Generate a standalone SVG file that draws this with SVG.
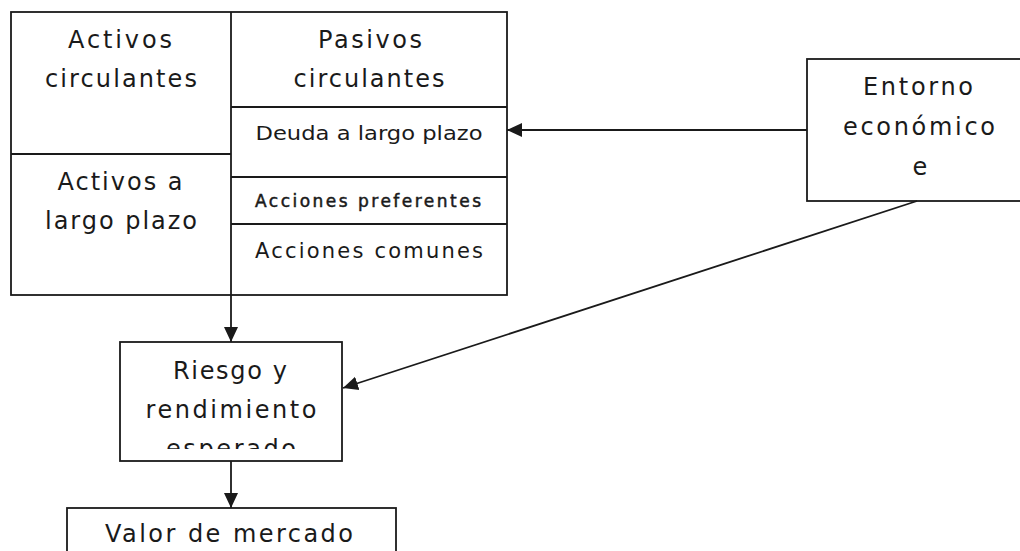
<svg xmlns="http://www.w3.org/2000/svg" width="1020" height="551" viewBox="0 0 1020 551">
<style>
.box{fill:#fff;stroke:#1a1a1a;stroke-width:1.8}
.ln{stroke:#1a1a1a;stroke-width:1.8;fill:none}
.t{font-family:"DejaVu Sans","Liberation Sans",sans-serif;fill:#1a1a1a;text-anchor:middle}
.L{font-size:24px}
.M{font-size:20px}
.C{font-size:21px}
.S{font-size:17px;stroke:#1a1a1a;stroke-width:0.5}
</style>
<defs>
<marker id="ah" markerUnits="userSpaceOnUse" markerWidth="16" markerHeight="16" viewBox="0 0 16 16" refX="15" refY="8" orient="auto">
<path d="M0,1 L15,8 L0,15 Z" fill="#1a1a1a"/>
</marker>
<clipPath id="rc"><rect x="120" y="342" width="222" height="107"/></clipPath>
</defs>
<rect width="1020" height="551" fill="#fff"/>
<g id="balance">
<rect class="box" x="11" y="12" width="496" height="283"/>
<line class="ln" x1="231" y1="12" x2="231" y2="295"/>
<line class="ln" x1="11" y1="154" x2="231" y2="154"/>
<line class="ln" x1="231" y1="107" x2="507" y2="107"/>
<line class="ln" x1="231" y1="177" x2="507" y2="177"/>
<line class="ln" x1="231" y1="224" x2="507" y2="224"/>
</g>
<g id="activos-circulantes">
<text class="t L" x="120" y="48" textLength="104" lengthAdjust="spacing">Activos</text>
<text class="t L" x="121" y="87" textLength="152" lengthAdjust="spacing">circulantes</text>
</g>
<g id="activos-largo">
<text class="t L" x="120" y="190" textLength="125" lengthAdjust="spacing">Activos a</text>
<text class="t L" x="121" y="229" textLength="152" lengthAdjust="spacing">largo plazo</text>
</g>
<g id="pasivos-circulantes">
<text class="t L" x="370" y="48" textLength="104" lengthAdjust="spacing">Pasivos</text>
<text class="t L" x="369" y="87" textLength="151" lengthAdjust="spacing">circulantes</text>
</g>
<g id="deuda">
<text class="t M" x="369" y="140" textLength="227" lengthAdjust="spacingAndGlyphs">Deuda a largo plazo</text>
</g>
<g id="preferentes">
<text class="t S" x="368" y="207" textLength="226" lengthAdjust="spacing">Acciones preferentes</text>
</g>
<g id="comunes">
<text class="t C" x="369" y="258" textLength="228" lengthAdjust="spacing">Acciones comunes</text>
</g>
<g id="entorno">
<rect class="box" x="807" y="59" width="220" height="142"/>
<text class="t L" x="918" y="95" textLength="110" lengthAdjust="spacing">Entorno</text>
<text class="t L" x="919" y="135" textLength="152" lengthAdjust="spacing">económico</text>
<text class="t L" x="920" y="175">e</text>
</g>
<g id="riesgo">
<rect class="box" x="120" y="342" width="222" height="119"/>
<g clip-path="url(#rc)">
<text class="t L" x="230" y="379" textLength="114" lengthAdjust="spacing">Riesgo y</text>
<text class="t L" x="231" y="418" textLength="171" lengthAdjust="spacing">rendimiento</text>
<text class="t L" x="231" y="457" textLength="130" lengthAdjust="spacing">esperado</text>
</g>
</g>
<g id="valor">
<rect class="box" x="67" y="508" width="329" height="60"/>
<text class="t L" x="229" y="542" textLength="248" lengthAdjust="spacing">Valor de mercado</text>
</g>
<g id="connectors">
<line class="ln" x1="231" y1="295" x2="231" y2="342" marker-end="url(#ah)"/>
<line class="ln" x1="231" y1="461" x2="231" y2="508" marker-end="url(#ah)"/>
<line class="ln" x1="807" y1="130" x2="507" y2="130" marker-end="url(#ah)"/>
<line class="ln" x1="917" y1="201" x2="343" y2="388" marker-end="url(#ah)"/>
</g>
</svg>
